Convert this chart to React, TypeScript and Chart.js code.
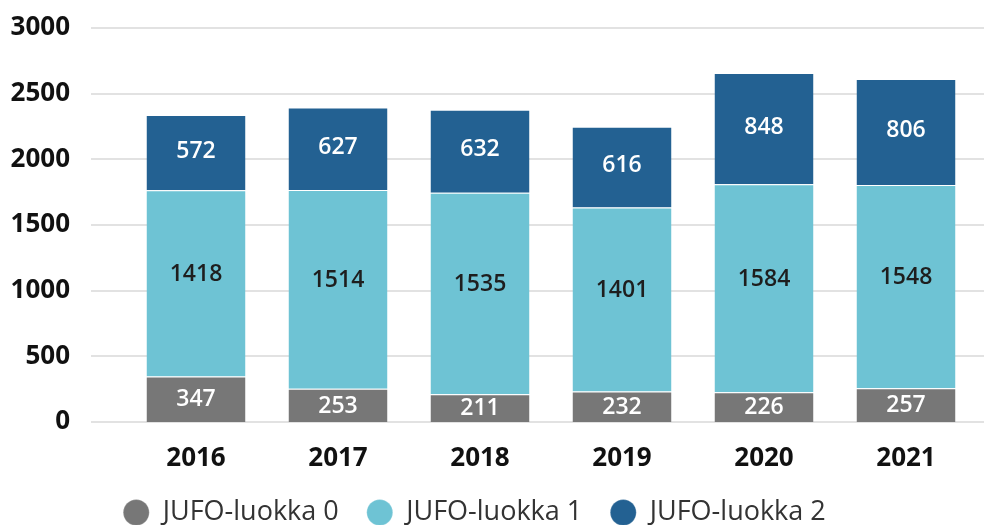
import { useEffect, useRef } from "react";
import { Chart, registerables } from "chart.js";

Chart.register(...registerables);

const years = ["2016", "2017", "2018", "2019", "2020", "2021"];
const luokka0 = [347, 253, 211, 232, 226, 257];
const luokka1 = [1418, 1514, 1535, 1401, 1584, 1548];
const luokka2 = [572, 627, 632, 616, 848, 806];
const seriesNames = ["JUFO-luokka 0", "JUFO-luokka 1", "JUFO-luokka 2"];
const yTicks = [0, 500, 1000, 1500, 2000, 2500, 3000];

const FONT = "'Open Sans', 'Noto Sans', sans-serif";
const COLORS = ["#777777", "#6ec3d4", "#236192"];
const LABEL_COLORS = ["#ffffff", "#1e1e1e", "#ffffff"];
const LABEL_SHIFT = [-1, -11, -3];

const gridPlugin = {
  id: "customGrid",
  beforeDatasetsDraw(chart: any) {
    const y = chart.scales.y;
    const ctx = chart.ctx;
    ctx.save();
    ctx.strokeStyle = "#e2e2e2";
    ctx.lineWidth = 2;
    for (const v of yTicks) {
      const py = Math.round(y.getPixelForValue(v));
      ctx.beginPath();
      ctx.moveTo(91, py);
      ctx.lineTo(chart.width, py);
      ctx.stroke();
    }
    ctx.restore();
  },
};

const layoutTweak = {
  id: "layoutTweak",
  afterLayout(chart: any) {
    const x = chart.scales.x;
    if (x) x.bottom += 30;
    const l = chart.legend;
    if (!l) return;
    l.left -= 14;
    l.right -= 14;
    l.top += 11;
    l.bottom += 11;
  },
};

const labelPlugin = {
  id: "segLabels",
  afterDatasetsDraw(chart: any) {
    const ctx = chart.ctx;
    ctx.save();
    ctx.font = `600 23px ${FONT}`;
    ctx.textAlign = "center";
    ctx.textBaseline = "alphabetic";
    chart.data.datasets.forEach((ds: any, di: number) => {
      const meta = chart.getDatasetMeta(di);
      meta.data.forEach((el: any, i: number) => {
        const yc = (el.y + el.base) / 2 + LABEL_SHIFT[di];
        ctx.fillStyle = LABEL_COLORS[di];
        ctx.fillText(String(ds.data[i]), el.x, yc + 8.2);
      });
    });
    ctx.restore();
  },
};

export default function App() {
  const ref = useRef<HTMLCanvasElement>(null);
  useEffect(() => {
    document.body.style.margin = "0";
    const canvas = ref.current!;
    const chart = new Chart(canvas, {
      type: "bar",
      data: {
        labels: years,
        datasets: [luokka0, luokka1, luokka2].map((d, i) => ({
          label: seriesNames[i],
          data: d,
          backgroundColor: COLORS[i],
          borderColor: "rgba(255,255,255,0.85)",
          borderWidth: { top: 1, left: 0, right: 0, bottom: 0 },
          borderSkipped: false,
          categoryPercentage: 1,
          barPercentage: 0.697,
        })),
      },
      options: {
        animation: false,
        responsive: false,
        layout: { padding: { top: 28, right: 7, left: 0, bottom: 0 } },
        scales: {
          x: {
            stacked: true,
            grid: { display: false },
            border: { display: false },
            ticks: {
              font: { family: FONT, size: 26, weight: "bold" },
              color: "#111111",
              padding: 13,
            },
            afterFit: (s: any) => {
              s.height = 38;
            },
          },
          y: {
            stacked: true,
            min: 0,
            max: 3000,
            grid: { display: false, drawTicks: false },
            border: { display: false },
            ticks: {
              stepSize: 500,
              font: { family: FONT, size: 26, weight: "bold" },
              color: "#111111",
              padding: 55,
              callback: (v: any) => String(v),
            },
            afterFit: (s: any) => {
              s.width = 125;
              s.paddingTop = 0;
              s.paddingBottom = 0;
            },
          },
        },
        plugins: {
          legend: {
            position: "bottom",
            labels: {
              usePointStyle: true,
              pointStyle: "circle",
              boxHeight: 18.4,
              pointStyleWidth: 26,
              font: { family: FONT, size: 27 },
              color: "#333333",
              padding: 28,
            },
          },
          tooltip: { enabled: false },
        },
      },
      plugins: [gridPlugin, labelPlugin, layoutTweak],
    });
    return () => chart.destroy();
  }, []);
  return <canvas ref={ref} width={984} height={525} />;
}
